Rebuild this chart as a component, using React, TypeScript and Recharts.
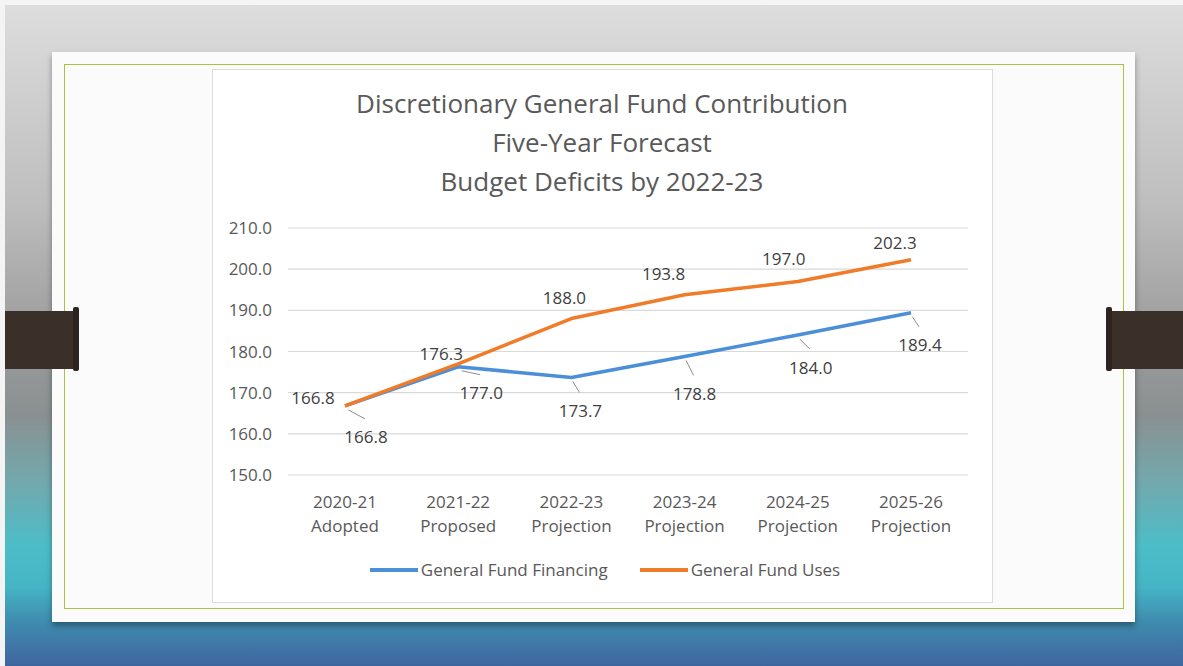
import {
  LineChart,
  Line,
  XAxis,
  YAxis,
  CartesianGrid,
  LabelList,
  Legend,
} from "recharts";

const categories = ["2020-21", "2021-22", "2022-23", "2023-24", "2024-25", "2025-26"];
const categoryNotes = ["Adopted", "Proposed", "Projection", "Projection", "Projection", "Projection"];
const financing = [166.8, 176.3, 173.7, 178.8, 184.0, 189.4];
const uses = [166.8, 177.0, 188.0, 193.8, 197.0, 202.3];
// labels as printed on the slide (the 2021-22 pair is swapped there)
const financingLabels = ["166.8", "177.0", "173.7", "178.8", "184.0", "189.4"];
const usesLabels = ["166.8", "176.3", "188.0", "193.8", "197.0", "202.3"];
const yTicks = [150, 160, 170, 180, 190, 200, 210];
const titleLines = [
  "Discretionary General Fund Contribution",
  "Five-Year Forecast",
  "Budget Deficits by 2022-23",
];

// label placement relative to each point [dx, dy]
const usesLabelOffsets = [[-32, -8], [-17, -10], [-7, -21], [-21, -21], [-14, -23], [-16, -17]];
const financingLabelOffsets = [[21, 31], [23, 26], [9, 33], [10, 37], [13, 32], [9, 32]];

const FONT = "'Open Sans', 'Noto Sans', sans-serif";
const BLUE = "#4a8fd8";
const ORANGE = "#f07b28";

const data = categories.map((year, i) => ({
  year,
  note: categoryNotes[i],
  financing: financing[i],
  uses: uses[i],
}));

const makeLabel =
  (texts: string[], offsets: number[][], leader: boolean) => (props: any) => {
    const { x, y, index } = props;
    const [dx, dy] = offsets[index];
    const lx = Number(x) + dx;
    const ly = Number(y) + dy;
    return (
      <g key={`lbl-${index}`}>
        {leader && (
          <line
            x1={Number(x) + dx * 0.15}
            y1={Number(y) + 4}
            x2={lx - 1}
            y2={ly - 18}
            stroke="#8c8c8c"
            strokeWidth={1}
          />
        )}
        <text
          x={lx}
          y={ly}
          textAnchor="middle"
          dominantBaseline="central"
          fill="#404040"
          fontSize={17}
          fontFamily={FONT}
        >
          {texts[index]}
        </text>
      </g>
    );
  };

const CategoryTick = (props: any) => {
  const { x, y, payload } = props;
  return (
    <text x={x} y={y} textAnchor="middle" fill="#595959" fontSize={17} fontFamily={FONT}>
      <tspan x={x} dy={33}>
        {payload.value}
      </tspan>
      <tspan x={x} dy={24}>
        {categoryNotes[payload.index]}
      </tspan>
    </text>
  );
};

const renderLegend = (props: any) => {
  const { payload = [] } = props;
  return (
    <div
      style={{
        display: "flex",
        justifyContent: "center",
        alignItems: "center",
        gap: 32,
        paddingLeft: 6,
        fontFamily: FONT,
        fontSize: 17,
        color: "#595959",
        lineHeight: "22px",
      }}
    >
      {payload.map((p: any) => (
        <span key={p.value} style={{ display: "flex", alignItems: "center" }}>
          <span
            style={{ width: 48, height: 4, background: p.color, marginRight: 3, display: "inline-block" }}
          />
          {p.value}
        </span>
      ))}
    </div>
  );
};

const abs = (style: React.CSSProperties): React.CSSProperties => ({
  position: "absolute",
  boxSizing: "border-box",
  ...style,
});

export default function App() {
  return (
    <div
      style={{
        position: "fixed",
        left: 0,
        top: 0,
        width: 1183,
        height: 666,
        overflow: "hidden",
        background: "#f4f4f4",
      }}
    >
      {/* photo background */}
      <div
        style={abs({
          left: 5,
          top: 5,
          width: 1178,
          height: 661,
          background:
            "linear-gradient(to bottom, #dddddd 0%, #bebebe 30%, #9c9c9c 50%, #8a9091 62%, #73a8ad 72%, #4cbdc8 82%, #45b5c5 88%, #3f8eb0 93%, #3f659f 100%)",
        })}
      />
      {/* slide */}
      <div
        style={abs({
          left: 52,
          top: 52,
          width: 1083,
          height: 570,
          background: "#fbfbfb",
          boxShadow: "0 4px 6px rgba(0,0,0,0.35)",
        })}
      />
      <div
        style={abs({
          left: 64,
          top: 64,
          width: 1060,
          height: 545,
          border: "1.5px solid #a9c23f",
        })}
      />
      <div
        style={abs({
          left: 212,
          top: 69,
          width: 781,
          height: 534,
          background: "#ffffff",
          border: "1px solid #dcdcdc",
        })}
      />
      {/* side bars */}
      <div style={abs({ left: 5, top: 311, width: 70, height: 58, background: "#3a3029" })} />
      <div style={abs({ left: 73, top: 307, width: 6, height: 64, background: "#2c241e", borderRadius: 2 })} />
      <div style={abs({ left: 1110, top: 311, width: 73, height: 58, background: "#3a3029" })} />
      <div style={abs({ left: 1106, top: 307, width: 6, height: 64, background: "#2c241e", borderRadius: 2 })} />

      {/* title */}
      <div
        style={abs({
          left: 211,
          top: 84,
          width: 782,
          textAlign: "center",
          fontFamily: FONT,
          fontSize: 26,
          lineHeight: "39px",
          color: "#595959",
        })}
      >
        {titleLines.map((t) => (
          <div key={t}>{t}</div>
        ))}
      </div>

      <div style={abs({ left: 211, top: 69 })}>
        <LineChart
          width={782}
          height={534}
          data={data}
          margin={{ top: 159, right: 25, bottom: 0, left: 0 }}
        >
          <CartesianGrid vertical={false} stroke="#d9d9d9" strokeWidth={1.2} />
          <XAxis
            dataKey="year"
            height={128}
            axisLine={false}
            tickLine={false}
            tickSize={0}
            tickMargin={0}
            interval={0}
            padding={{ left: 57, right: 57 }}
            tick={<CategoryTick />}
          />
          <YAxis
            width={77}
            domain={[150, 210]}
            ticks={yTicks}
            axisLine={false}
            tickLine={false}
            tickSize={0}
            tickMargin={16}
            tickFormatter={(v: number) => v.toFixed(1)}
            tick={{ fill: "#595959", fontSize: 17, fontFamily: FONT }}
          />
          <Legend
            verticalAlign="middle"
            align="center"
            layout="horizontal"
            wrapperStyle={{ top: 490, left: 0, width: 782 }}
            content={renderLegend}
          />
          <Line
            name="General Fund Financing"
            dataKey="financing"
            type="linear"
            stroke={BLUE}
            strokeWidth={3.5}
            strokeLinejoin="round"
            dot={false}
            isAnimationActive={false}
          >
            <LabelList
              dataKey="financing"
              content={makeLabel(financingLabels, financingLabelOffsets, true)}
            />
          </Line>
          <Line
            name="General Fund Uses"
            dataKey="uses"
            type="linear"
            stroke={ORANGE}
            strokeWidth={3.5}
            strokeLinejoin="round"
            dot={false}
            isAnimationActive={false}
          >
            <LabelList dataKey="uses" content={makeLabel(usesLabels, usesLabelOffsets, false)} />
          </Line>
        </LineChart>
      </div>
    </div>
  );
}
